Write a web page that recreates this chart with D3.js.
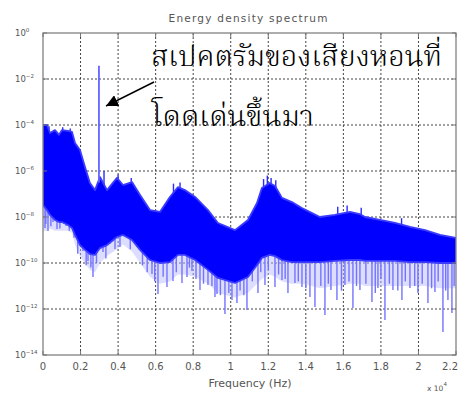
<!DOCTYPE html>
<html>
<head>
<meta charset="utf-8">
<script src="https://cdn.jsdelivr.net/npm/d3@7"></script>
<style>
  body { margin: 0; background: #fff; }
  svg { display: block; }
</style>
</head>
<body>
<svg width="459" height="394"></svg>
<script>
// frequency in Hz, levels as log10 of energy density
var bandFreq = [0, 213, 373, 639, 852, 1012, 1330, 1545, 1705, 1970, 2236, 2500, 2770, 3035, 3410,
  3940, 4260, 4740, 5170, 5700, 6230, 6760, 7190, 7560, 8100, 8790, 9320, 10230, 10920, 11400,
  11660, 12080, 12360, 12730, 13260, 13790, 14330, 14750, 15550, 16350, 16880, 17150, 17950,
  18750, 19550, 20350, 21150, 22000];
var bandTop = [-4.00, -4.00, -4.35, -4.22, -4.43, -4.22, -4.26, -4.30, -4.78, -5.09, -5.83, -6.52,
  -6.83, -6.26, -6.83, -6.30, -6.61, -6.48, -7.04, -7.70, -7.78, -7.13, -6.70, -6.83, -7.13, -7.70,
  -8.26, -8.57, -8.13, -7.39, -6.74, -6.52, -6.65, -7.17, -7.35, -7.61, -7.83, -8.00, -7.91, -7.78,
  -7.87, -8.00, -8.13, -8.26, -8.43, -8.57, -8.78, -8.91];
var bandBottom = [-7.48, -7.70, -7.91, -8.13, -8.22, -8.22, -8.35, -8.48, -8.78, -9.22, -9.43, -9.61,
  -9.65, -9.35, -9.22, -8.87, -8.78, -9.00, -9.43, -9.87, -10.00, -9.96, -9.65, -9.65, -9.87, -10.30,
  -10.65, -10.87, -10.61, -10.09, -9.78, -9.65, -9.70, -9.87, -9.96, -9.96, -9.96, -9.96, -9.91,
  -9.87, -9.87, -9.91, -9.91, -9.91, -9.96, -9.96, -10.00, -10.00];
// pale fringe of overlapping spikes below the dense band
var fringeBottom = [-8.6, -8.6, -8.5, -8.6, -8.6, -8.6, -8.6, -8.7, -9.2, -9.7, -10.0, -10.3, -10.4,
  -10.0, -9.7, -9.4, -9.2, -9.5, -10.0, -10.6, -10.9, -10.8, -10.5, -10.5, -10.6, -10.9, -11.3, -11.5,
  -11.3, -10.9, -10.7, -10.5, -10.6, -10.8, -10.9, -10.9, -11.0, -11.1, -11.0, -10.9, -10.9, -11.0,
  -11.0, -11.0, -11.0, -11.0, -11.1, -11.1];

// narrow dips below the dense band
var dipFreq = [107, 150, 266, 420, 533, 746, 900, 1100, 1225, 1400, 1650, 1850, 2130, 2300, 2397,
  2550, 2663, 2850, 3196, 3350, 3568, 3835, 4100, 4474, 4650, 4900, 5300, 5550, 5805, 5950, 6125,
  6400, 6604, 6924, 7100, 7403, 7670, 7800, 7936, 8150, 8362, 8550, 8788, 9000, 9161, 9267, 9450,
  9693, 9900, 10066, 10332, 10500, 10700, 10865, 11150, 11451, 11600, 11824, 12000, 12357, 12550,
  12730, 12900, 13049, 13422, 13600, 13795, 14000, 14220, 14487, 14800, 15019, 15200, 15339, 15658,
  15900, 16084, 16300, 16510, 16700, 16883, 17200, 17523, 17700, 17842, 18000, 18215, 18450, 18641,
  18900, 19120, 19300, 19546, 19800, 19972, 20200, 20505, 20700, 20878, 21050, 21304, 21450, 21570,
  21783, 21900];
var dipLevel = [-8.48, -8.3, -8.61, -8.4, -8.22, -8.52, -8.5, -8.3, -8.39, -8.6, -8.9, -9.6, -9.48,
  -10.1, -9.91, -10.2, -10.61, -10.0, -9.52, -9.8, -9.17, -9.39, -9.3, -8.65, -9.4, -8.83, -10.1,
  -10.4, -10.48, -10.8, -11.35, -10.6, -11.04, -10.78, -10.4, -10.87, -10.61, -10.2, -10.35, -10.7,
  -11.17, -10.9, -10.96, -11.0, -11.48, -11.35, -11.4, -12.22, -11.3, -11.61, -11.74, -11.2, -11.4,
  -12.04, -10.8, -11.30, -10.4, -10.96, -10.3, -11.04, -10.5, -10.74, -10.7, -11.30, -10.87, -10.8,
  -11.04, -11.1, -11.48, -11.91, -11.0, -12.26, -10.9, -11.17, -11.61, -11.2, -10.96, -10.8, -11.96,
  -11.0, -11.17, -10.9, -11.70, -11.3, -11.09, -10.7, -12.48, -10.9, -11.17, -11.2, -11.61, -10.8,
  -11.09, -11.0, -11.30, -10.9, -11.74, -11.1, -11.26, -10.8, -13.00, -11.2, -11.61, -12.17, -11.0];

// small spikes poking above the band
var tipFreq = [60, 320, 1050, 1450, 3250, 4000, 4700, 6950, 7300, 11750, 11950, 12150, 12400,
  15700, 16200, 16950, 19100];
var tipLevel = [-4.0, -4.05, -4.1, -4.15, -6.0, -6.15, -6.3, -6.55, -6.5, -6.35, -6.2, -6.3, -6.4,
  -7.55, -7.5, -7.6, -8.05];

// howling tone
var peakFreq = 2980;
var peakLevel = -1.42;

var xTicks = [0, 0.2, 0.4, 0.6, 0.8, 1, 1.2, 1.4, 1.6, 1.8, 2, 2.2];
var yTickExp = [0, -2, -4, -6, -8, -10, -12, -14];

var svg = d3.select("svg"),
    margin = {top: 33, right: 3, bottom: 39, left: 43},
    width = +svg.attr("width") - margin.left - margin.right,
    height = +svg.attr("height") - margin.top - margin.bottom,
    g = svg.append("g").attr("transform", "translate(" + margin.left + "," + margin.top + ")");

var x = d3.scaleLinear().domain([0, 22000]).range([0, width]);
var y = d3.scaleLog().domain([1e-14, 1]).range([height, 0]);

var band = bandFreq.map(function(f, i) {
  return {f: f, top: Math.pow(10, bandTop[i]), bottom: Math.pow(10, bandBottom[i]),
          fringe: Math.pow(10, fringeBottom[i])};
});

// grid
g.append("g")
  .selectAll("line")
  .data(xTicks.slice(1, -1))
  .enter().append("line")
    .attr("x1", function(d) { return x(d * 1e4); })
    .attr("x2", function(d) { return x(d * 1e4); })
    .attr("y1", 0).attr("y2", height)
    .attr("stroke", "#444").attr("stroke-dasharray", "2,2");

g.append("g")
  .selectAll("line")
  .data(yTickExp.slice(1, -1))
  .enter().append("line")
    .attr("y1", function(d) { return y(Math.pow(10, d)); })
    .attr("y2", function(d) { return y(Math.pow(10, d)); })
    .attr("x1", 0).attr("x2", width)
    .attr("stroke", "#444").attr("stroke-dasharray", "2,2");

g.append("clipPath").attr("id", "plot")
  .append("rect").attr("width", width).attr("height", height);

var plot = g.append("g").attr("clip-path", "url(#plot)");

// band edge at a given frequency, so spikes start inside the band
var bis = d3.bisector(function(d) { return d.f; }).right;
function edgeAt(f, key) {
  var i = Math.max(1, Math.min(band.length - 1, bis(band, f)));
  var a = band[i - 1], b = band[i];
  return y(a[key]) + (f - a.f) / (b.f - a.f) * (y(b[key]) - y(a[key]));
}

var fringe = d3.area()
  .x(function(d) { return x(d.f); })
  .y0(function(d) { return y(d.fringe); })
  .y1(function(d) { return y(d.bottom); });

plot.append("path")
  .datum(band)
  .attr("d", fringe)
  .attr("fill", "#b4b4ff")
  .attr("opacity", 0.45);

plot.append("g")
  .selectAll("line")
  .data(dipFreq)
  .enter().append("line")
    .attr("x1", function(d) { return x(d); })
    .attr("x2", function(d) { return x(d); })
    .attr("y1", function(d) { return edgeAt(d, "bottom") - 4; })
    .attr("y2", function(d, i) { return y(Math.pow(10, dipLevel[i])); })
    .attr("stroke", "#7373ff")
    .attr("stroke-width", 1.4);

plot.append("g")
  .selectAll("line")
  .data(tipFreq)
  .enter().append("line")
    .attr("x1", function(d) { return x(d); })
    .attr("x2", function(d) { return x(d); })
    .attr("y1", function(d) { return edgeAt(d, "top") + 4; })
    .attr("y2", function(d, i) { return y(Math.pow(10, tipLevel[i])); })
    .attr("stroke", "#2a2aff")
    .attr("stroke-width", 1.4);

var area = d3.area()
  .x(function(d) { return x(d.f); })
  .y0(function(d) { return y(d.bottom); })
  .y1(function(d) { return y(d.top); });

plot.append("path")
  .datum(band)
  .attr("d", area)
  .attr("fill", "#0000ff")
  .attr("stroke", "#3c3cff")
  .attr("stroke-width", 1.8)
  .attr("stroke-linejoin", "round");

plot.append("line")
  .attr("x1", x(peakFreq)).attr("x2", x(peakFreq))
  .attr("y1", y(Math.pow(10, peakLevel)))
  .attr("y2", y(Math.pow(10, -6.5)))
  .attr("stroke", "#6464ff")
  .attr("stroke-width", 1.8);

// axes box and ticks
g.append("rect")
  .attr("width", width).attr("height", height)
  .attr("fill", "none").attr("stroke", "#777").attr("stroke-width", 1.2);

var tickG = g.append("g").attr("stroke", "#777");
xTicks.forEach(function(t) {
  tickG.append("line").attr("x1", x(t * 1e4)).attr("x2", x(t * 1e4)).attr("y1", height).attr("y2", height - 4);
  tickG.append("line").attr("x1", x(t * 1e4)).attr("x2", x(t * 1e4)).attr("y1", 0).attr("y2", 4);
});
yTickExp.forEach(function(e) {
  var yy = y(Math.pow(10, e));
  tickG.append("line").attr("x1", 0).attr("x2", 4).attr("y1", yy).attr("y2", yy);
  tickG.append("line").attr("x1", width).attr("x2", width - 4).attr("y1", yy).attr("y2", yy);
});

var labelFont = "'DejaVu Sans', sans-serif";

g.append("g")
  .selectAll("text")
  .data(xTicks)
  .enter().append("text")
    .attr("x", function(d, i) { return i === xTicks.length - 1 ? width + 2 : x(d * 1e4); })
    .attr("y", height + 15)
    .attr("text-anchor", function(d, i) { return i === xTicks.length - 1 ? "end" : "middle"; })
    .style("font", "10px " + labelFont)
    .attr("fill", "#555")
    .text(function(d) { return d; });

var yl = g.append("g")
  .selectAll("text")
  .data(yTickExp)
  .enter().append("text")
    .attr("x", -28)
    .attr("y", function(d) { return y(Math.pow(10, d)) + 3; })
    .style("font", "8.5px " + labelFont)
    .attr("fill", "#555");
yl.append("tspan").text("10");
yl.append("tspan")
  .attr("dy", -4)
  .style("font-size", "5.5px")
  .text(function(d) { return d === 0 ? "0" : "\u2212" + (-d); });

svg.append("text")
  .attr("x", 248).attr("y", 22)
  .attr("text-anchor", "middle")
  .attr("textLength", 159)
  .style("font", "10.5px " + labelFont)
  .attr("fill", "#555")
  .text("Energy density spectrum");

svg.append("text")
  .attr("x", 250).attr("y", 387)
  .attr("text-anchor", "middle")
  .style("font", "11px " + labelFont)
  .attr("fill", "#555")
  .text("Frequency (Hz)");

var mult = svg.append("text")
  .attr("x", 427).attr("y", 391)
  .style("font", "7.5px " + labelFont)
  .attr("fill", "#555");
mult.append("tspan").text("x 10");
mult.append("tspan").attr("dy", -5).style("font-size", "5.5px").text("4");

// annotation
svg.append("defs").append("marker")
  .attr("id", "head")
  .attr("viewBox", "0 0 10 10")
  .attr("refX", 10).attr("refY", 5)
  .attr("markerWidth", 12).attr("markerHeight", 12)
  .attr("markerUnits", "userSpaceOnUse")
  .attr("orient", "auto")
  .append("path")
    .attr("d", "M0,0L10,5L0,10z")
    .attr("fill", "#000");

svg.append("line")
  .attr("x1", 154).attr("y1", 82)
  .attr("x2", 106).attr("y2", 106)
  .attr("stroke", "#000").attr("stroke-width", 1.5)
  .attr("marker-end", "url(#head)");

var thaiFont = "Kinnari, Norasi, 'TlwgMono', 'Noto Serif Thai', 'Noto Sans Thai', Loma, Garuda, serif";
svg.append("text")
  .attr("x", 151).attr("y", 66)
  .attr("textLength", 291)
  .attr("lengthAdjust", "spacingAndGlyphs")
  .style("font", "300 28px " + thaiFont)
  .attr("fill", "#000")
  .text("สเปคตรัมของเสียงหอนที่");

svg.append("text")
  .attr("x", 152).attr("y", 126)
  .attr("textLength", 162)
  .attr("lengthAdjust", "spacingAndGlyphs")
  .style("font", "300 28px " + thaiFont)
  .attr("fill", "#000")
  .text("โดดเด่นขึ้นมา");
</script>
</body>
</html>
